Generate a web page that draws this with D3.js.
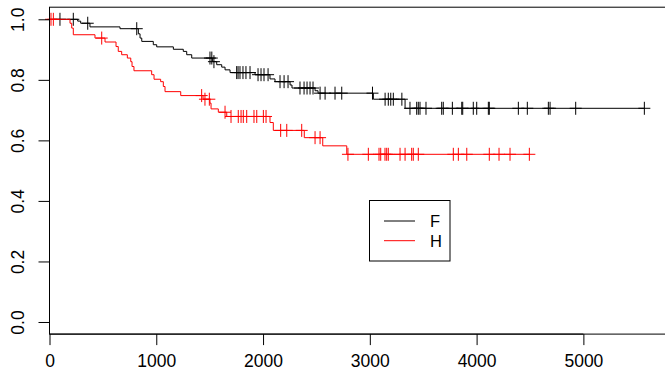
<!DOCTYPE html>
<html>
<head>
<meta charset="utf-8">
<script src="https://cdn.jsdelivr.net/npm/d3@7"></script>
<style>
  body { margin: 0; background: #fff; }
  svg { display: block; font-family: "Liberation Sans", Arial, sans-serif; }
</style>
</head>
<body>
<div id="chart"></div>
<script>
// group F (black)
const fTimes = [264, 292, 379, 660, 832, 848, 864, 972, 1004, 1160, 1253, 1285, 1332, 1528, 1566, 1613, 1644, 1691, 1925, 2065, 2112, 2253, 2271, 2487, 2515, 3033, 3330];
const fSurv = [0.994, 0.987, 0.975, 0.969, 0.952, 0.938, 0.927, 0.916, 0.909, 0.901, 0.894, 0.883, 0.872, 0.860, 0.850, 0.842, 0.833, 0.824, 0.817, 0.803, 0.794, 0.783, 0.773, 0.764, 0.756, 0.736, 0.706];
const fCensor = [98, 223, 358, 817, 1503, 1520, 1540, 1753, 1766, 1784, 1812, 1840, 1878, 1953, 1981, 2009, 2047, 2159, 2197, 2234, 2346, 2384, 2412, 2440, 2468, 2534, 2581, 2674, 2737, 3025, 3143, 3173, 3196, 3220, 3300, 3376, 3439, 3454, 3470, 3526, 3673, 3688, 3773, 3861, 3870, 3969, 4001, 4110, 4119, 4391, 4475, 4672, 4688, 4928, 5571];

// group H (red)
const hTimes = [192, 208, 223, 426, 520, 623, 644, 676, 729, 761, 773, 791, 957, 979, 1041, 1066, 1082, 1229, 1438, 1503, 1513, 1581, 1660, 2065, 2096, 2386, 2559, 2784];
const hSurv = [0.987, 0.971, 0.949, 0.938, 0.925, 0.910, 0.894, 0.883, 0.872, 0.860, 0.844, 0.830, 0.817, 0.802, 0.794, 0.778, 0.761, 0.748, 0.736, 0.723, 0.704, 0.693, 0.679, 0.659, 0.633, 0.609, 0.582, 0.554];
const hCensor = [14, 36, 489, 1425, 1456, 1497, 1644, 1700, 1768, 1794, 1815, 1847, 1915, 1941, 2003, 2028, 2165, 2222, 2362, 2487, 2534, 2795, 2986, 3086, 3102, 3142, 3158, 3173, 3283, 3330, 3392, 3407, 3454, 3782, 3829, 3908, 4119, 4210, 4313, 4494];

const xTicks = [0, 1000, 2000, 3000, 4000, 5000];
const yTicks = [0, 0.2, 0.4, 0.6, 0.8, 1.0];
const groups = ['F', 'H'];
const colors = ['#000000', '#ff0000'];

const width = 665, height = 375;
const svg = d3.select('#chart').append('svg')
  .attr('width', width)
  .attr('height', height);

const x = d3.scaleLinear().domain([0, 5800]).range([49.5, 668.8]);
const y = d3.scaleLinear().domain([-0.04, 1.04]).range([334.1, 7.2]);

function survAt(times, surv, t) {
  let s = 1;
  times.forEach((tt, i) => { if (tt <= t) s = surv[i]; });
  return s;
}

function stepPoints(times, surv, censor) {
  const end = d3.max(censor.concat(times));
  const pts = [[0, 1]];
  let s = 1;
  times.forEach((t, i) => {
    pts.push([t, s]);
    s = surv[i];
    pts.push([t, s]);
  });
  pts.push([end, s]);
  return pts;
}

const line = d3.line().x(d => x(d[0])).y(d => y(d[1]));

const series = [
  {times: fTimes, surv: fSurv, censor: fCensor, color: colors[0]},
  {times: hTimes, surv: hSurv, censor: hCensor, color: colors[1]}
];

series.forEach(sr => {
  svg.append('path')
    .attr('d', line(stepPoints(sr.times, sr.surv, sr.censor)))
    .attr('fill', 'none')
    .attr('stroke', sr.color)
    .attr('stroke-width', 1);

  const marks = svg.append('g');
  sr.censor.forEach(t => {
    const cx = x(t), cy = y(survAt(sr.times, sr.surv, t));
    marks.append('path')
      .attr('d', `M${cx - 6},${cy}H${cx + 6}M${cx},${cy - 6.5}V${cy + 6.5}`)
      .attr('stroke', sr.color)
      .attr('stroke-width', 1)
      .attr('fill', 'none');
  });
});

// box
svg.append('rect')
  .attr('x', x(0)).attr('y', y(1.04))
  .attr('width', x(5800) - x(0)).attr('height', y(-0.04) - y(1.04))
  .attr('fill', 'none').attr('stroke', '#000').attr('stroke-width', 1);

// x axis
const xAxis = svg.append('g')
  .attr('transform', `translate(0,${y(-0.04)})`)
  .call(d3.axisBottom(x).tickValues(xTicks).tickSize(11).tickPadding(9).tickFormat(d3.format('d')));
xAxis.select('.domain').attr('d', `M${x(0)},0H${x(5000)}`);
xAxis.selectAll('text').attr('font-size', 17.5).attr('fill', '#000').attr('font-family', null);

// y axis
const yAxis = svg.append('g')
  .attr('transform', `translate(${x(0)},0)`)
  .call(d3.axisLeft(y).tickValues(yTicks).tickSize(11).tickFormat(d3.format('.1f')));
yAxis.select('.domain').attr('d', `M0,${y(0)}V${y(1)}`);
yAxis.selectAll('text')
  .attr('font-size', 17.5).attr('fill', '#000').attr('font-family', null)
  .attr('text-anchor', 'middle')
  .attr('x', null).attr('dy', null)
  .attr('transform', 'translate(-26,0) rotate(-90)');

// legend
const legend = svg.append('g');
legend.append('rect')
  .attr('x', 369.5).attr('y', 200.5).attr('width', 80.5).attr('height', 60.5)
  .attr('fill', '#fff').attr('stroke', '#000').attr('stroke-width', 1);
groups.forEach((g, i) => {
  const ly = 221 + i * 19.7;
  legend.append('line')
    .attr('x1', 384).attr('x2', 415).attr('y1', ly).attr('y2', ly)
    .attr('stroke', colors[i]).attr('stroke-width', 1);
  legend.append('text')
    .attr('x', 430).attr('y', ly + 6)
    .attr('font-size', 16.5)
    .text(g);
});
</script>
</body>
</html>
